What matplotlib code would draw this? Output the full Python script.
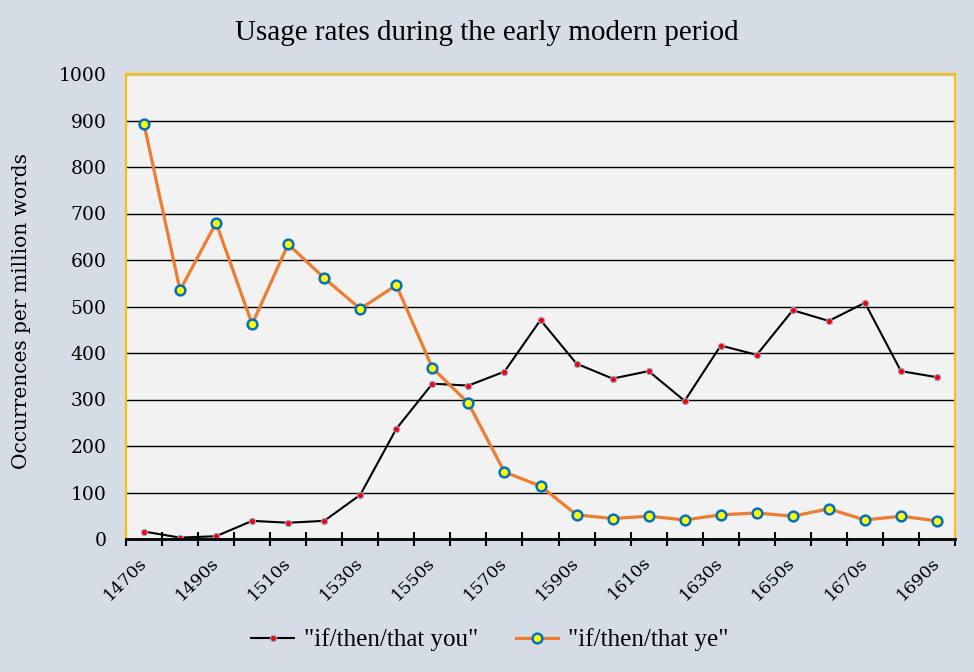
import matplotlib
matplotlib.use("Agg")
import matplotlib.pyplot as plt
import numpy as np

decades = [f"{y}s" for y in range(1470, 1700, 10)]
you_rate = [16, 3, 6, 39, 35, 39, 95, 237, 334, 330, 360, 471, 377, 345,
            361, 297, 416, 396, 492, 469, 508, 361, 348]
ye_rate = [892, 535, 680, 462, 634, 561, 495, 546, 368, 292, 144, 114, 52,
           44, 49, 41, 52, 56, 49, 65, 41, 49, 39]
y_ticks = list(range(0, 1001, 100))

BG = "#D6DCE5"
PLOT_BG = "#F2F2F2"
GOLD = "#FFC000"
ORANGE = "#ED7D31"
TIMES = ["Liberation Serif", "DejaVu Serif"]
BOOK = ["DejaVu Serif"]

plt.rcParams["font.family"] = TIMES

fig = plt.figure(figsize=(9.74, 6.72), dpi=100, facecolor=BG)
ax = fig.add_axes([126 / 974, 1 - 539 / 672, (955 - 126) / 974, (539 - 74) / 672])
ax.set_facecolor(PLOT_BG)

x = np.arange(len(decades))
ax.plot(x, you_rate, color="black", lw=1.5, marker="o", ms=4.5,
        mfc="#FF0000", mec="#8FAADC", mew=0.8, label='"if/then/that you"', zorder=3)
ax.plot(x, ye_rate, color=ORANGE, lw=2.3, marker="o", ms=7,
        mfc="#FFFF00", mec="#0070C0", mew=1.8, label='"if/then/that ye"', zorder=4)

ax.set_xlim(-0.5, len(decades) - 0.5)
ax.set_ylim(0, 1000)
ax.set_yticks(y_ticks)
ax.set_yticklabels([str(v) for v in y_ticks], fontsize=13.5, family=BOOK)
ax.tick_params(axis="y", length=0, pad=14)
ax.grid(axis="y", color="black", lw=1)
ax.set_axisbelow(True)

# category boundary ticks, labels on every other category centre
ax.set_xticks(np.arange(-0.5, len(decades), 1.0))
ax.set_xticklabels([])
ax.tick_params(axis="x", which="major", direction="inout", length=10, width=1.5)
ax.set_xticks(x[::2], minor=True)
ax.set_xticklabels(decades[::2], minor=True, rotation=45, ha="right", va="center",
                   rotation_mode="anchor", fontsize=12.5, family=BOOK)
ax.tick_params(axis="x", which="minor", length=0, pad=15)

for side in ("top", "left", "right"):
    ax.spines[side].set_color(GOLD)
    ax.spines[side].set_linewidth(1.5)
ax.spines["bottom"].set_color("black")
ax.spines["bottom"].set_linewidth(2)
ax.spines["bottom"].set_zorder(5)

ax.set_ylabel("Occurrences per million words", fontsize=14.5, family=BOOK)
ax.yaxis.set_label_coords((31 - 126) / 829, 0.49)
fig.text(0.5, 1 - 33 / 672, "Usage rates during the early modern period",
         ha="center", va="center", fontsize=21)

fig.legend(loc="center", bbox_to_anchor=(490 / 974, 1 - 640 / 672), ncol=2,
           frameon=False, fontsize=18, handlelength=1.7, handletextpad=0.4,
           columnspacing=1.5)

fig.savefig("out.png", dpi=100, facecolor=BG)
